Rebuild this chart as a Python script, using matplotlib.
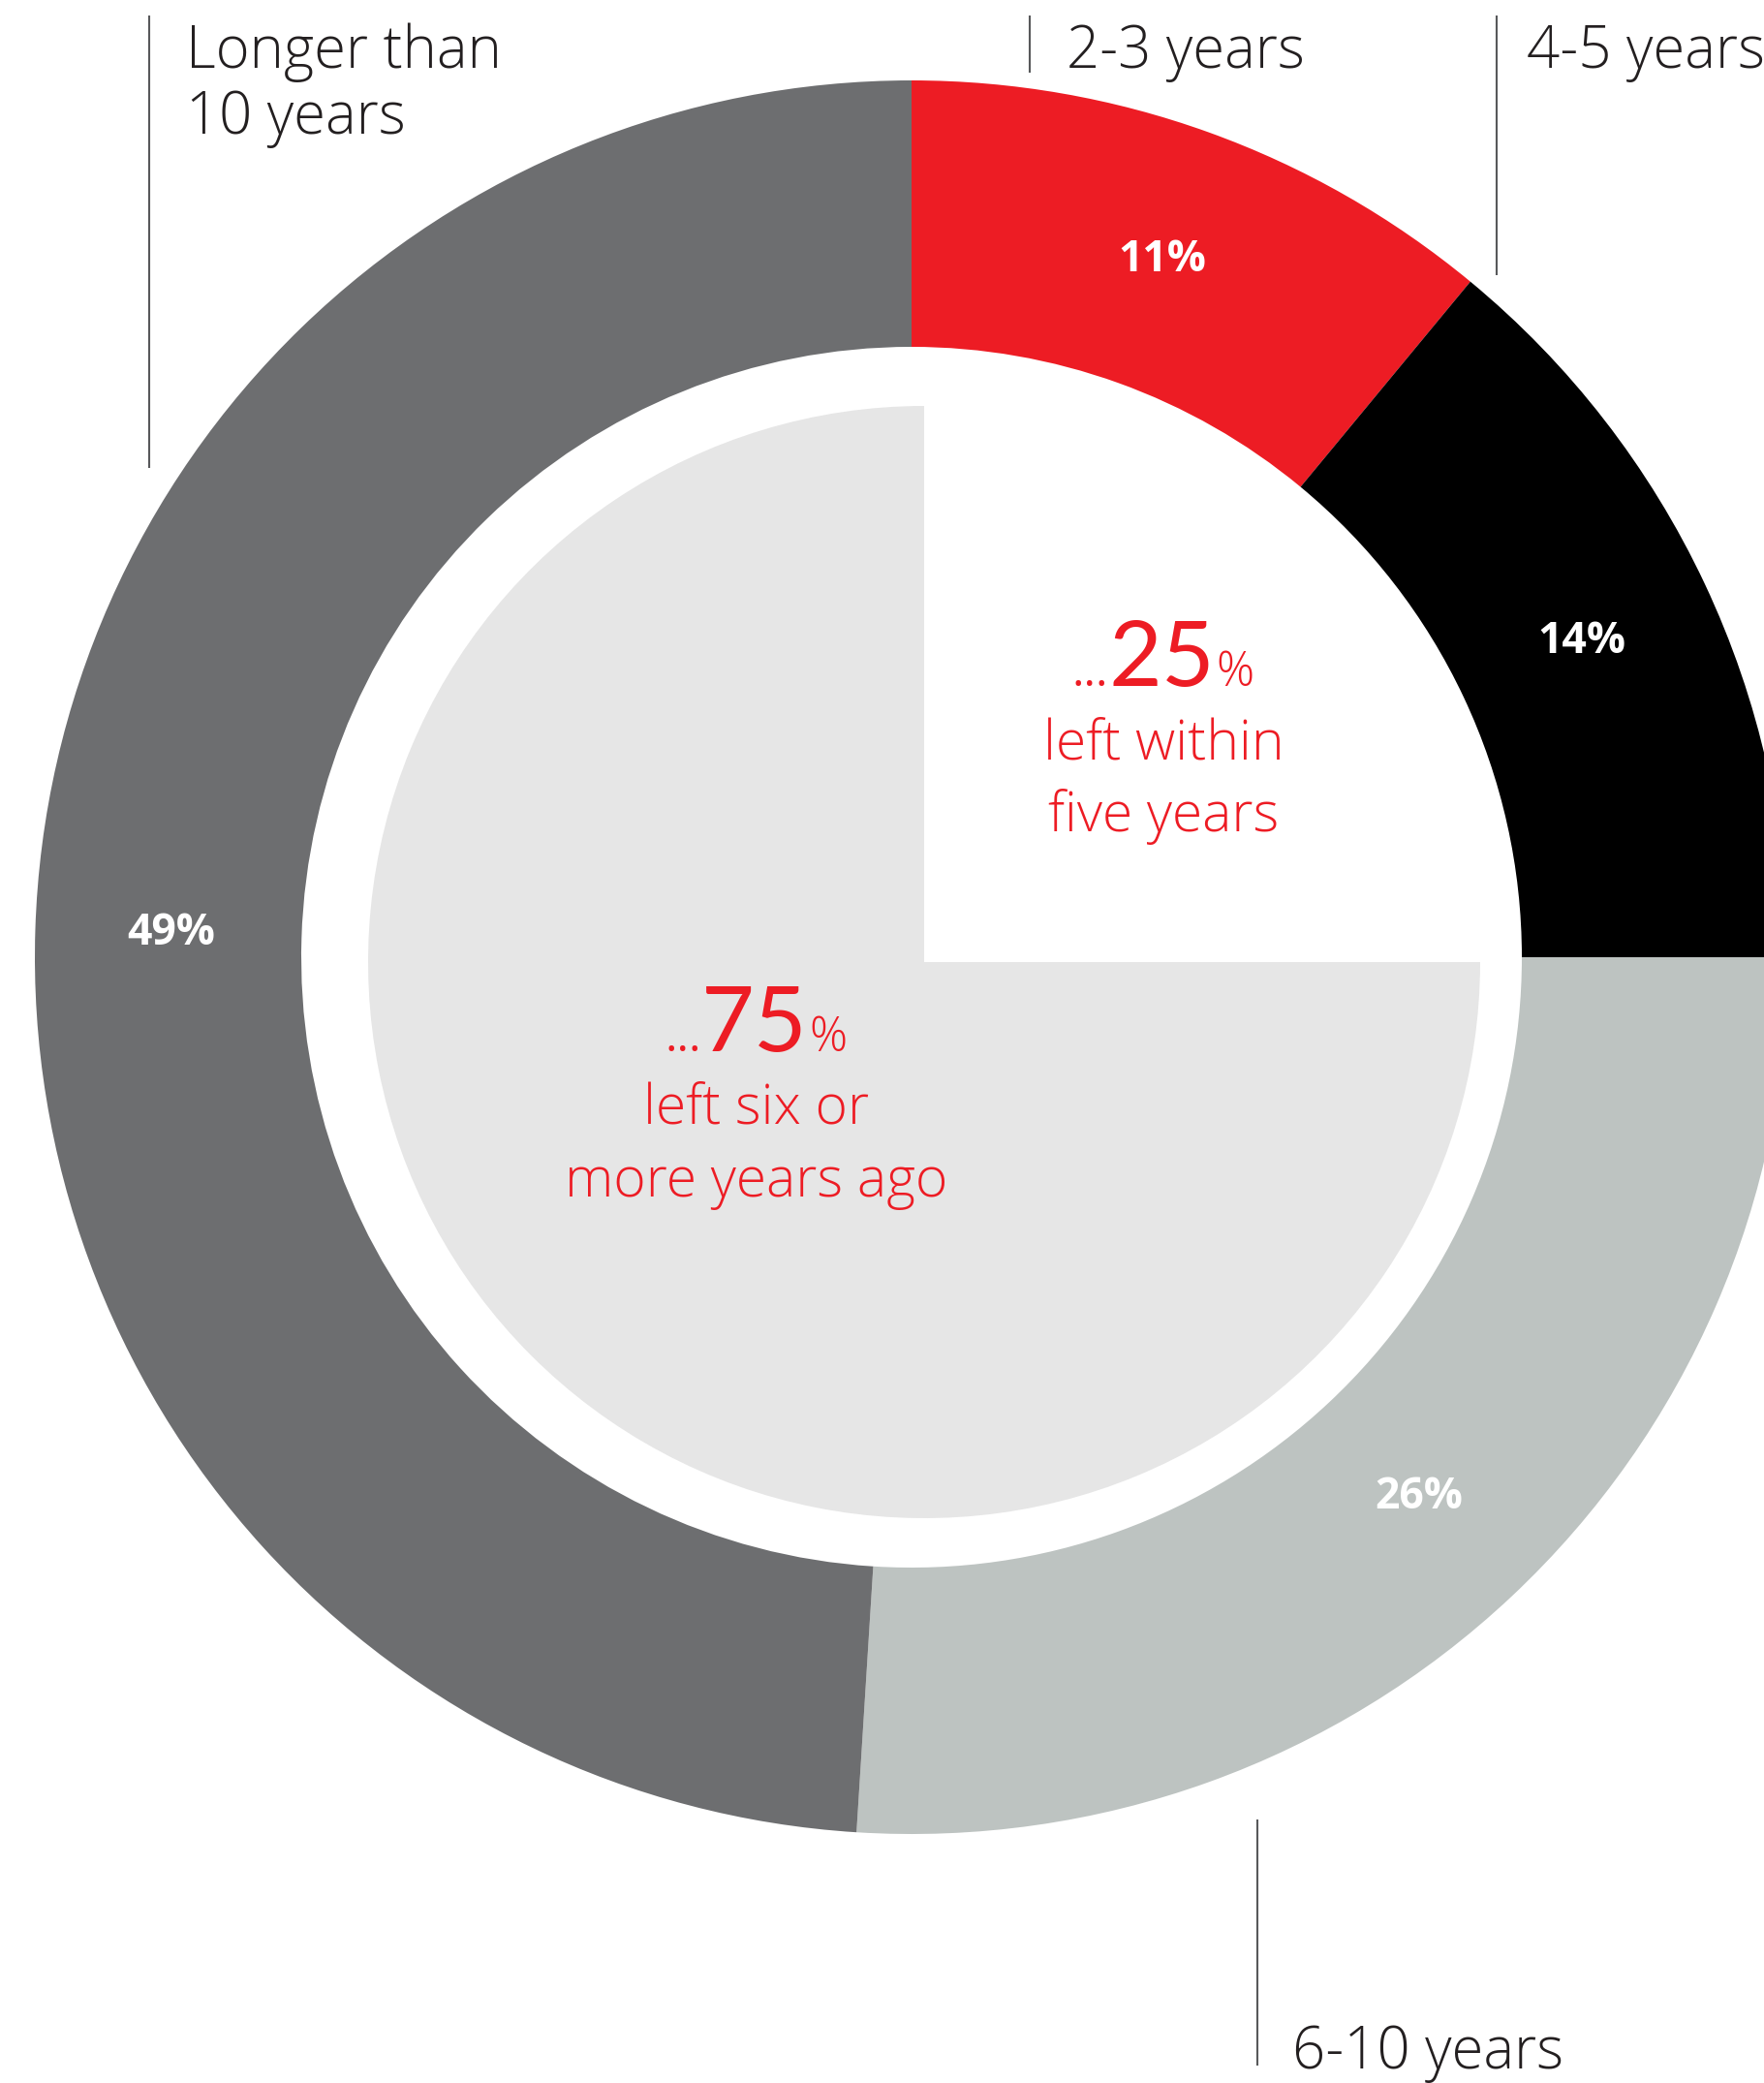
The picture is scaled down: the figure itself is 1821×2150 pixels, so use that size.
import matplotlib
matplotlib.use("Agg")
import matplotlib.pyplot as plt

# ---- data ----
ring_labels = ["2-3 years", "4-5 years", "6-10 years", "Longer than\n10 years"]
ring_values = [11, 14, 26, 49]
ring_colors = ["#ED1C24", "#000000", "#BDC3C1", "#6D6E70"]

inner_labels = ["left within\nfive years", "left six or\nmore years ago"]
inner_values = [25, 75]
inner_colors = ["#FFFFFF", "#E6E6E6"]

W, H = 1821, 2150
plt.rcParams['font.family'] = ['Open Sans', 'DejaVu Sans']

fig = plt.figure(figsize=(W / 100, H / 100), dpi=100)
ax = fig.add_axes([0, 0, 1, 1])

def Y(y):
    return H - y

# outer ring
R_out, R_in = 905, 630
cx, cy = 941, 988
ax.pie(ring_values, colors=ring_colors, radius=R_out, center=(cx, Y(cy)),
       startangle=90, counterclock=False,
       wedgeprops=dict(width=R_out - R_in, linewidth=0),
       autopct=lambda p: f"{p:.0f}%", pctdistance=0.845,
       textprops=dict(color="white", fontsize=32, fontweight="bold"))

# inner pie
r_pie = 574
px, py = 954, 993
ax.pie(inner_values, colors=inner_colors, radius=r_pie, center=(px, Y(py)),
       startangle=90, counterclock=False, wedgeprops=dict(linewidth=0))

ax.set_aspect('auto')
ax.set_xlim(0, W)
ax.set_ylim(0, H)
ax.axis('off')

red = "#ED1C24"
# centre annotations
def big_stat(xc, yb, value, lines):
    ax.text(xc, Y(yb), f"{value}", color=red, fontsize=68, ha='center',
            va='baseline', family=['Lato', 'DejaVu Sans'])
    ax.text(xc - 55, Y(yb), "...", color=red, fontsize=34, ha='right',
            va='baseline')
    ax.text(xc + 56, Y(yb), "%", color=red, fontsize=35, ha='left',
            va='baseline', fontweight=300)
    for i, ln in enumerate(lines.split("\n")):
        ax.text(xc + 2, Y(yb + 75 * (i + 1)), ln, color=red, fontsize=41,
                ha='center', va='baseline', fontweight=300)

big_stat(1199, 708, inner_values[0], inner_labels[0])
big_stat(779, 1085, inner_values[1], inner_labels[1])

# category labels with leader lines
txt_color = "#231F20"
line_color = "#58595B"
cat_pos = {
    "Longer than\n10 years": (192, 70, 154, 16, 483),
    "2-3 years": (1101, 70, 1063, 16, 75),
    "4-5 years": (1576, 70, 1545, 16, 284),
    "6-10 years": (1334, 2135, 1298, 1878, 2132),
}
for lab in ring_labels:
    tx, tb, lx, ly0, ly1 = cat_pos[lab]
    for i, ln in enumerate(lab.split("\n")):
        ax.text(tx, Y(tb + 68 * i), ln, color=txt_color, fontsize=43,
                ha='left', va='baseline', fontweight=300)
    ax.plot([lx, lx], [Y(ly0), Y(ly1)], color=line_color, lw=1.5,
            solid_capstyle='butt')

fig.savefig("out.png", dpi=100)
